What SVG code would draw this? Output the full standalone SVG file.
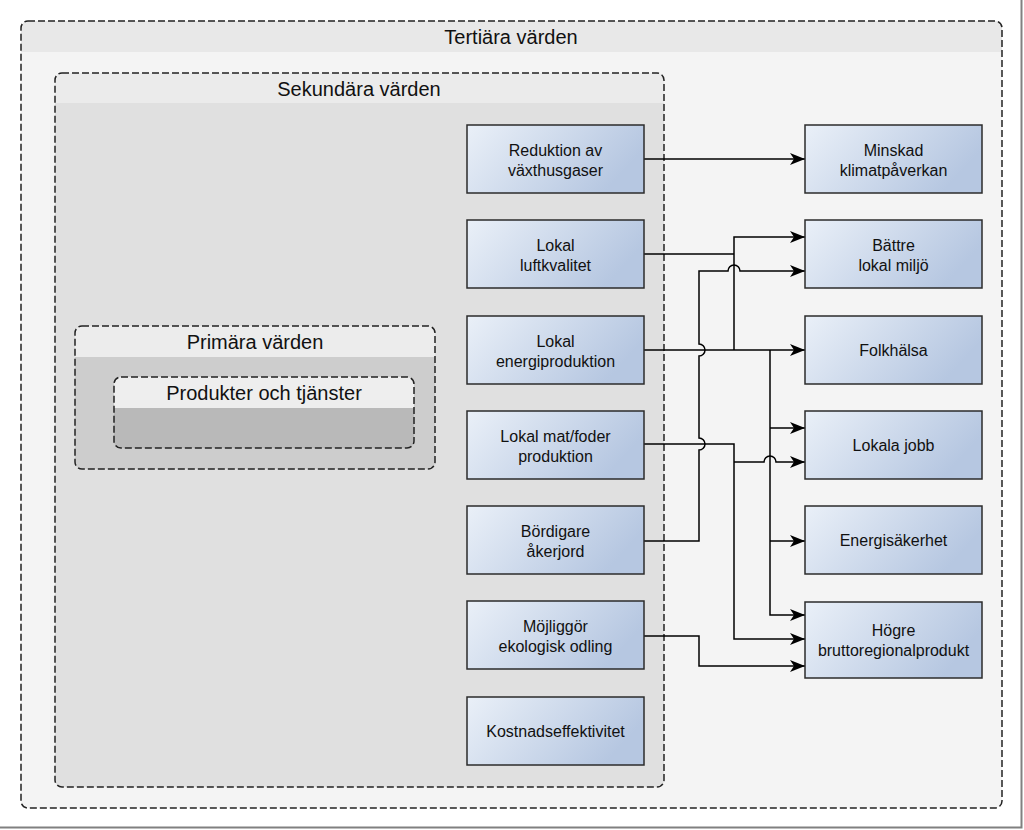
<svg xmlns="http://www.w3.org/2000/svg" width="1024" height="830" viewBox="0 0 1024 830">
<defs>
<linearGradient id="bg" x1="0" y1="0" x2="1" y2="0.35">
<stop offset="0" stop-color="#eaf0f8"/>
<stop offset="1" stop-color="#b6c7e1"/>
</linearGradient>
<marker id="ah" markerUnits="userSpaceOnUse" markerWidth="16" markerHeight="12" refX="15" refY="6" orient="auto">
<path d="M0,0 L15,6 L0,12 L4,6 z" fill="#000"/>
</marker>
</defs>
<style>
.dash{fill:none;stroke:#222;stroke-width:1.5;stroke-dasharray:7,3}
.ttl{font-family:"Liberation Sans",Arial,sans-serif;font-size:20px;fill:#111;text-anchor:middle}
.box{fill:url(#bg);stroke:#2b2b2b;stroke-width:1.5}
.lbl{font-family:"Liberation Sans",Arial,sans-serif;font-size:16px;fill:#111;text-anchor:middle}
.con{fill:none;stroke:#000;stroke-width:1.5}
.arr{marker-end:url(#ah)}
</style>
<rect x="0" y="0" width="1024" height="830" fill="#fff"/>
<path d="M0,827.5 H1021.5 V0" fill="none" stroke="#808080" stroke-width="2"/>

<g id="tertiara">
<rect x="21" y="21" width="981" height="787" rx="7" fill="#f4f4f4"/>
<path d="M21,52 V28 a7,7 0 0 1 7,-7 H995 a7,7 0 0 1 7,7 V52 z" fill="#e8e8e8"/>
<rect x="21" y="21" width="981" height="787" rx="7" class="dash"/>
<text x="511" y="44" class="ttl">Tertiära värden</text>
</g>

<g id="sekundara">
<rect x="55" y="73" width="609" height="714" rx="7" fill="#e0e0e0"/>
<path d="M55,103 V80 a7,7 0 0 1 7,-7 H657 a7,7 0 0 1 7,7 V103 z" fill="#ebebeb"/>
<rect x="55" y="73" width="609" height="714" rx="7" class="dash"/>
<text x="359" y="96" class="ttl">Sekundära värden</text>
</g>

<g id="primara">
<rect x="75" y="326" width="360" height="143" rx="7" fill="#cdcdcd"/>
<path d="M75,357 V333 a7,7 0 0 1 7,-7 H428 a7,7 0 0 1 7,7 V357 z" fill="#ececec"/>
<rect x="75" y="326" width="360" height="143" rx="7" class="dash"/>
<text x="255" y="349" class="ttl">Primära värden</text>
</g>

<g id="produkter">
<rect x="114" y="377" width="300" height="71" rx="7" fill="#b9b9b9"/>
<path d="M114,408 V384 a7,7 0 0 1 7,-7 H407 a7,7 0 0 1 7,7 V408 z" fill="#eeeeee"/>
<rect x="114" y="377" width="300" height="71" rx="7" class="dash"/>
<text x="264" y="400" class="ttl">Produkter och tjänster</text>
</g>

<g id="connectors">
<path class="con arr" d="M644,159 H805"/>
<path class="con" d="M644,254 H734"/>
<path class="con arr" d="M644,350 H805"/>
<path class="con arr" d="M734,350 V237 H805"/>
<path class="con arr" d="M770,350 V615 H805"/>
<path class="con arr" d="M770,428 H805"/>
<path class="con arr" d="M770,541 H805"/>
<path class="con arr" d="M644,444 H734 V639 H805"/>
<path class="con arr" d="M734,462 H764 A6,6 0 0 1 776,462 H805"/>
<path class="con arr" d="M644,541 H699 V450 A6,6 0 0 0 699,438 V356 A6,6 0 0 0 699,344 V271 H728 A6,6 0 0 1 740,271 H805"/>
<path class="con arr" d="M644,636 H699 V666 H805"/>
</g>

<g id="n-reduktion"><rect class="box" x="467" y="125" width="177" height="68"/><text class="lbl" x="555.5" y="155.5">Reduktion av</text><text class="lbl" x="555.5" y="175.5">växthusgaser</text></g>
<g id="n-luft"><rect class="box" x="467" y="220" width="177" height="68"/><text class="lbl" x="555.5" y="250.5">Lokal</text><text class="lbl" x="555.5" y="270.5">luftkvalitet</text></g>
<g id="n-energi"><rect class="box" x="467" y="316" width="177" height="68"/><text class="lbl" x="555.5" y="346.5">Lokal</text><text class="lbl" x="555.5" y="366.5">energiproduktion</text></g>
<g id="n-mat"><rect class="box" x="467" y="411" width="177" height="68"/><text class="lbl" x="555.5" y="441.5">Lokal mat/foder</text><text class="lbl" x="555.5" y="461.5">produktion</text></g>
<g id="n-bordigare"><rect class="box" x="467" y="506" width="177" height="68"/><text class="lbl" x="555.5" y="536.5">Bördigare</text><text class="lbl" x="555.5" y="556.5">åkerjord</text></g>
<g id="n-ekologisk"><rect class="box" x="467" y="601" width="177" height="68"/><text class="lbl" x="555.5" y="631.5">Möjliggör</text><text class="lbl" x="555.5" y="651.5">ekologisk odling</text></g>
<g id="n-kostnad"><rect class="box" x="467" y="697" width="177" height="68"/><text class="lbl" x="555.5" y="737">Kostnadseffektivitet</text></g>

<g id="n-klimat"><rect class="box" x="805" y="125" width="177" height="68"/><text class="lbl" x="893.5" y="155.5">Minskad</text><text class="lbl" x="893.5" y="175.5">klimatpåverkan</text></g>
<g id="n-miljo"><rect class="box" x="805" y="220" width="177" height="68"/><text class="lbl" x="893.5" y="250.5">Bättre</text><text class="lbl" x="893.5" y="270.5">lokal miljö</text></g>
<g id="n-folkhalsa"><rect class="box" x="805" y="316" width="177" height="68"/><text class="lbl" x="893.5" y="356">Folkhälsa</text></g>
<g id="n-jobb"><rect class="box" x="805" y="411" width="177" height="68"/><text class="lbl" x="893.5" y="451">Lokala jobb</text></g>
<g id="n-energisakerhet"><rect class="box" x="805" y="506" width="177" height="68"/><text class="lbl" x="893.5" y="546">Energisäkerhet</text></g>
<g id="n-brp"><rect class="box" x="805" y="602" width="177" height="76"/><text class="lbl" x="893.5" y="636">Högre</text><text class="lbl" x="893.5" y="656">bruttoregionalprodukt</text></g>
</svg>
